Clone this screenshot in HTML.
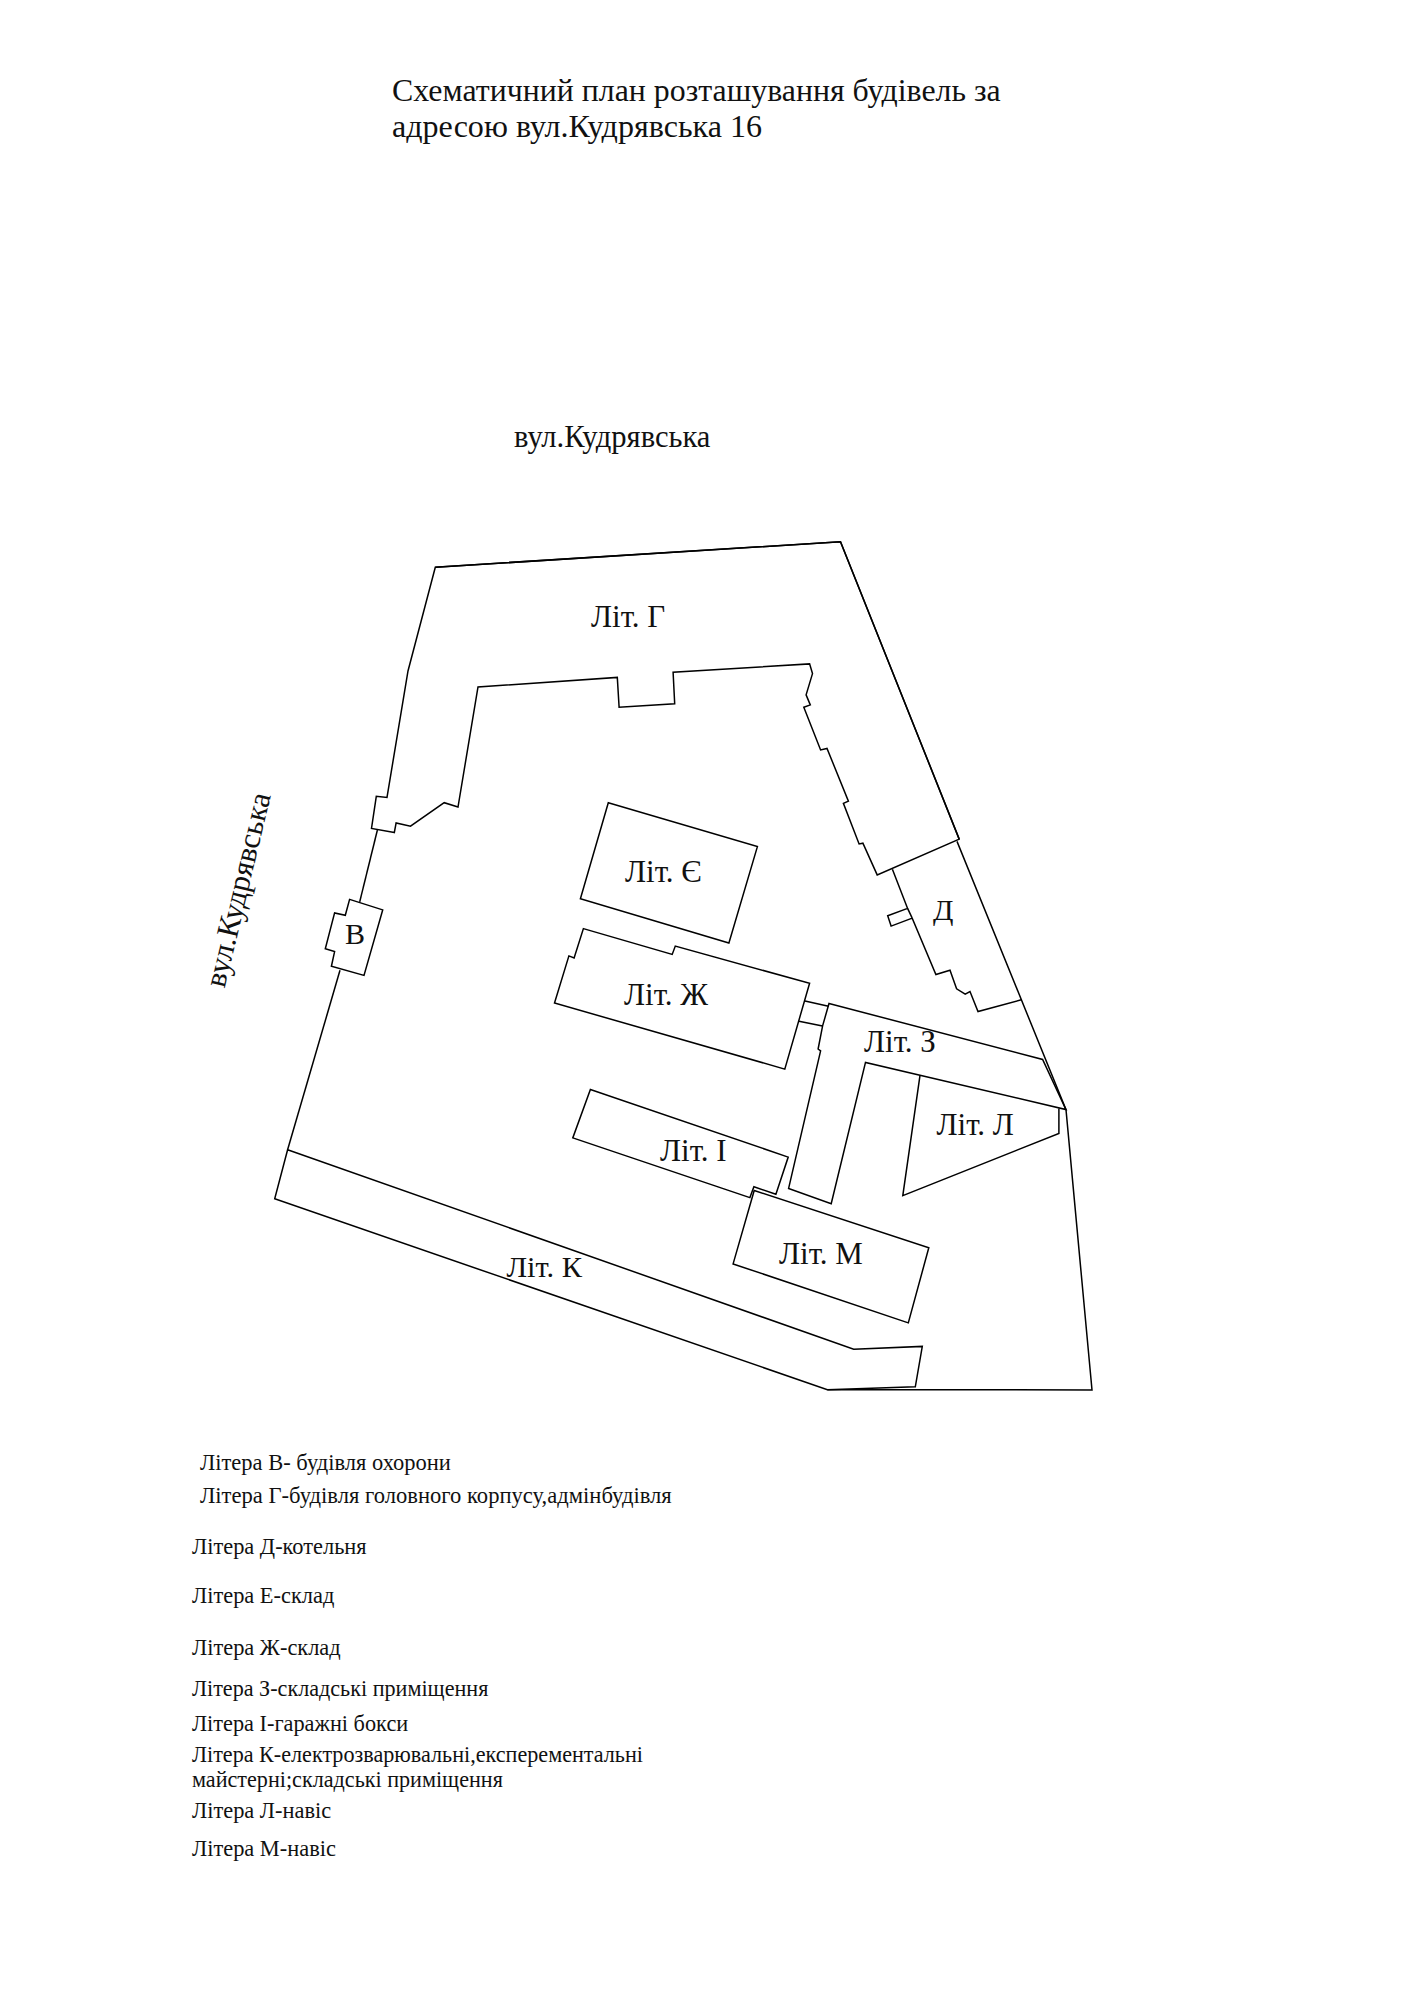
<!DOCTYPE html>
<html><head><meta charset="utf-8">
<style>
html,body{margin:0;padding:0;background:#fff;}
body{width:1404px;height:2000px;overflow:hidden;position:relative;}
svg{position:absolute;left:0;top:0;}
text{font-family:"Liberation Serif",serif;fill:#111;}
.ln{fill:none;stroke:#000;stroke-width:1.5;stroke-linejoin:miter;stroke-miterlimit:10;}
</style></head>
<body>
<svg width="1404" height="2000" viewBox="0 0 1404 2000">
<!-- title -->
<text x="392" y="101.4" font-size="31.85">Схематичний план розташування будівель за</text>
<text x="392" y="136.6" font-size="32.1">адресою вул.Кудрявська 16</text>
<text x="514" y="446.8" font-size="30.6">вул.Кудрявська</text>
<text transform="translate(238,889.7) rotate(-76.5)" text-anchor="middle" y="10" font-size="31">вул.Кудрявська</text>

<!-- site boundary -->
<path class="ln" d="M435.3,567.2 L840.5,541.7 L959.2,839.1 M957,841.4 L1066,1109.6 L1092,1389.9 L827.4,1389.7"/>
<path class="ln" d="M287.6,1149.7 L340,970.3"/>
<path class="ln" d="M359.7,901.9 L377.4,830"/>
<!-- Г building -->
<path class="ln" d="M394.3,832.6 L371.5,828.4 L376.3,796.3 L387,797.4 L408,671 L435.3,567.2 L840.5,541.7 L959.2,839.1 L877.2,874.9 L862.9,843.2 L859.1,843.9 L843.4,803.3 L848.4,801.1 L827,748.4 L820.6,749.9 L803.8,707.2 L810.3,704.9 L806.1,694.9 L812.5,673.6 L809.6,663.9 L673.1,672.3 L674.7,703.8 L619.1,707.3 L617.3,677.4 L478,687 L458,807 L444.2,802.7 L410.5,826.2 L396.1,823 Z"/>
<!-- В building -->
<path class="ln" d="M349.6,899.4 L382.7,909.9 L364,975.4 L331.4,966.3 L334.6,951.6 L325.3,948.7 L334.6,912.9 L345.3,915.3 Z"/>
<!-- Д building -->
<path class="ln" d="M892.4,869.3 L907.6,908.4 L912.2,918.1 M907.6,908.4 L887.7,915.8 L891.1,926.1 L912.2,918.1 L935.9,974.5 L950,970.2 L956.6,988.8 L965.2,994.2 L970,991.5 L978,1011.5 L1021.3,999.8"/>
<!-- Є -->
<path class="ln" d="M608.3,802.7 L757.4,846.6 L728.9,943 L580.4,898.8 Z"/>
<!-- Ж -->
<path class="ln" d="M583.4,928.6 L672.2,954.4 L675.3,946.1 L809.6,983.3 L784.8,1069.1 L554.5,1003 L568.9,955.9 L574.1,957.9 Z"/>
<!-- connector -->
<path class="ln" d="M805,1000.9 L828.5,1006.3 M799,1021.2 L822.5,1026.1"/>
<!-- З -->
<path class="ln" d="M829,1003.5 L1042.6,1059.4 L1066,1109.6 L865.5,1062.4 L831.2,1203.8 L788.6,1188.4 L820.6,1050.9 L818.1,1049 L822.6,1025.9 Z"/>
<!-- Л -->
<path class="ln" d="M920,1075.3 L902.8,1195.6 L1058.9,1133.5 L1058.9,1108.5"/>
<!-- І -->
<path class="ln" d="M590.4,1089.5 L788.2,1157.1 L775.9,1194.2 L753.9,1186.8 L749.9,1197.6 L572.8,1137.9 Z"/>
<!-- М -->
<path class="ln" d="M754.2,1190.5 L928.8,1247.7 L908.3,1322.9 L733.1,1263.9 Z"/>
<!-- К -->
<path class="ln" d="M287.6,1149.7 L853.7,1349.2 L922.3,1346.4 L915.3,1386.8 L827.4,1389.7 L274.7,1198.8 Z"/>

<!-- labels -->
<text x="591" y="627.4" font-size="31">Літ. Г</text>
<text x="625" y="882.2" font-size="31">Літ. Є</text>
<text x="624" y="1005" font-size="31">Літ. Ж</text>
<text x="660" y="1160.8" font-size="31">Літ. І</text>
<text x="779" y="1263.9" font-size="31">Літ. М</text>
<text x="864" y="1052.2" font-size="31">Літ. З</text>
<text x="936.5" y="1135.2" font-size="31">Літ. Л</text>
<text x="506.5" y="1276.8" font-size="30.4">Літ. К</text>
<text x="345" y="943.9" font-size="30">В</text>
<text x="933" y="919.8" font-size="30">Д</text>

<!-- legend -->
<g font-size="22.4">
<text x="200" y="1470" font-size="22.5">Літера В- будівля охорони</text>
<text x="200" y="1503.2" font-size="22.6">Літера Г-будівля головного корпусу,адмінбудівля</text>
<text x="192" y="1554.2">Літера Д-котельня</text>
<text x="192" y="1602.6">Літера Е-склад</text>
<text x="192" y="1655.1">Літера Ж-склад</text>
<text x="192" y="1696.3" font-size="22.15">Літера З-складські приміщення</text>
<text x="192" y="1730.9" font-size="22.3">Літера І-гаражні бокси</text>
<text x="192" y="1761.7" font-size="22.15">Літера К-електрозварювальні,експерементальні</text>
<text x="192" y="1787.3" font-size="22.15">майстерні;складські приміщення</text>
<text x="192" y="1817.8">Літера Л-навіс</text>
<text x="192" y="1855.8">Літера М-навіс</text>
</g>
</svg>
</body></html>
